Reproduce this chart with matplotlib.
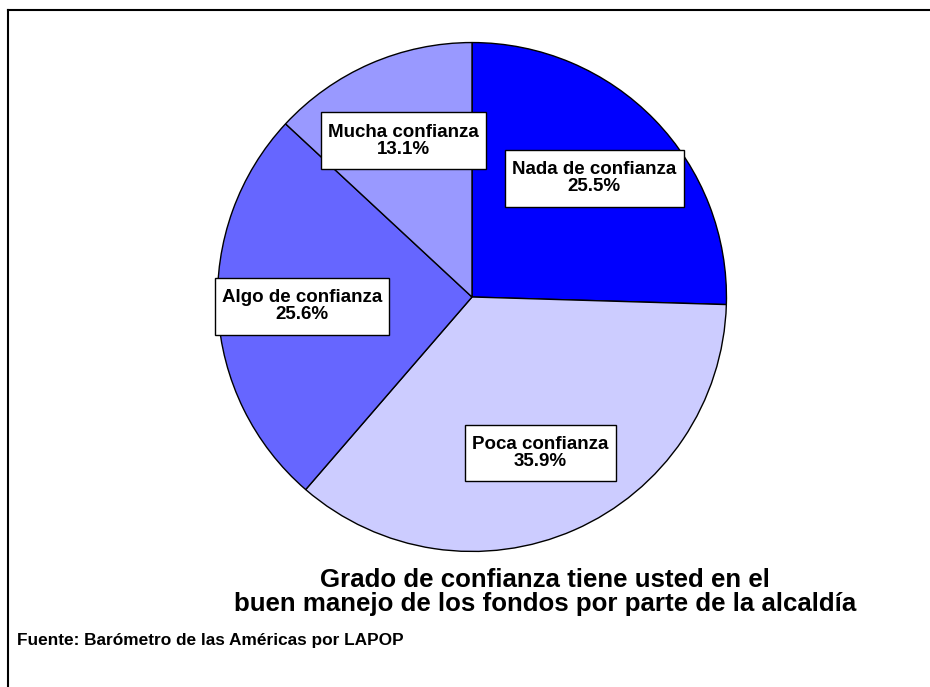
import matplotlib
matplotlib.use("Agg")
from matplotlib import pyplot as plt
from matplotlib.lines import Line2D

categorias = ["Nada de confianza", "Poca confianza", "Algo de confianza", "Mucha confianza"]
valores = [25.5, 35.9, 25.6, 13.1]
colores = ["#0000FF", "#CCCCFF", "#6666FF", "#9999FF"]

titulo = "Grado de confianza tiene usted en el\nbuen manejo de los fondos por parte de la alcaldía"
fuente = "Fuente: Barómetro de las Américas por LAPOP"

plt.rcParams["font.family"] = ["Liberation Sans", "DejaVu Sans"]

fig = plt.figure(figsize=(9.3, 6.87), dpi=100)

# frame (only top and left show in the original)
fig.add_artist(Line2D([8/930, 8/930], [0, 1 - 10/687], color="black", lw=1.5, transform=fig.transFigure))
fig.add_artist(Line2D([8/930, 1], [1 - 10/687, 1 - 10/687], color="black", lw=1.5, transform=fig.transFigure))

ax = fig.add_axes([215/930, 133/687, 514/930, 514/687])

def etiqueta(pct):
    i = etiqueta.n
    etiqueta.n += 1
    return f"{categorias[i]}\n{valores[i]:.1f}%"
etiqueta.n = 0

wedges, _, textos = ax.pie(valores, colors=colores, startangle=90, counterclock=False,
                           autopct=etiqueta, pctdistance=0.67, radius=1,
                           wedgeprops=dict(edgecolor="black", linewidth=1))
for t in textos:
    t.set_fontsize(13.5)
    t.set_fontweight("bold")
    t.set_linespacing(1.0)
    t.set_bbox(dict(boxstyle="square,pad=0.38", facecolor="white", edgecolor="black", linewidth=1))
    t.get_bbox_patch().set_mutation_aspect(1.6)

ax.set_xlim(-1.01, 1.01)
ax.set_ylim(-1.01, 1.01)
ax.axis("off")

fig.text(545/930, 1 - 592/687, titulo, ha="center", va="center", fontsize=18.6,
         fontweight="bold", linespacing=1.0)
fig.text(17/930, 1 - 641/687, fuente, ha="left", va="center", fontsize=12.4, fontweight="bold")

fig.savefig("out.png", dpi=100, facecolor="white")
